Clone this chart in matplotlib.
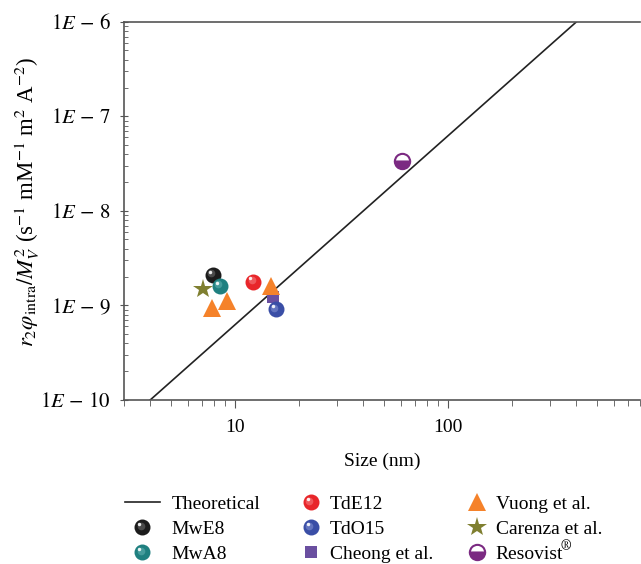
import numpy as np
import matplotlib
matplotlib.use("Agg")
import matplotlib.pyplot as plt
from matplotlib.lines import Line2D
from matplotlib.transforms import ScaledTranslation
from matplotlib.ticker import LogLocator, FixedLocator, NullFormatter

plt.rcParams["font.family"] = ["Liberation Serif", "DejaVu Serif"]
plt.rcParams["mathtext.fontset"] = "stix"

# data
theory_size = [4, 400]
theory_val = [1e-10, 1e-6]

sphere_names = ["MwE8", "MwA8", "TdE12", "TdO15"]
sphere_size = [7.85, 8.5, 12.2, 15.5]
sphere_val = [2.10e-9, 1.61e-9, 1.79e-9, 9.1e-10]
sphere_colors = ["#1c1c1c", "#1f8080", "#e8262a", "#3a4ea6"]
sphere_mid = ["#6a6a6a", "#5fb0b0", "#f47a7c", "#7f8fd0"]

cheong_size = [15.0]
cheong_val = [1.22e-9]

vuong_size = [7.76, 9.13, 14.7]
vuong_val = [9.4e-10, 1.10e-9, 1.62e-9]

carenza_size = [7.1]
carenza_val = [1.50e-9]

resovist_size = [60.7]
resovist_val = [3.4e-8]

# offsets (points) of the shading layers on a sphere
OFF1, OFF2 = 1.2, 2.2


class SphereHandler:
    # draws the same three layered discs in the legend, with the offsets
    def legend_artist(self, legend, orig_handle, fontsize, handlebox):
        cx = -handlebox.xdescent + handlebox.width / 2
        cy = -handlebox.ydescent + handlebox.height / 2
        tr = handlebox.get_transform()
        arts = []
        for ln, off in zip(orig_handle, [0, OFF1, OFF2]):
            a = Line2D([cx - off], [cy + off], marker="o", linestyle="none",
                       markersize=ln.get_markersize(), color=ln.get_color(),
                       alpha=ln.get_alpha(), markeredgewidth=0, transform=tr)
            handlebox.add_artist(a)
            arts.append(a)
        return arts[0]


fig = plt.figure(figsize=(6.41, 5.64), dpi=100)
ax = fig.add_axes([0.193, 0.291, 0.806, 0.670])

line_theory, = ax.plot(theory_size, theory_val, color="#222222", linewidth=1.2, label="Theoretical")

# shaded spheres: base disc + lighter disc + white highlight, nudged up-left
shift1 = ScaledTranslation(-OFF1 / 72, OFF1 / 72, fig.dpi_scale_trans)
shift2 = ScaledTranslation(-OFF2 / 72, OFF2 / 72, fig.dpi_scale_trans)
sphere_handles = {}
for name, xs, ys, c, cm in zip(sphere_names, sphere_size, sphere_val, sphere_colors, sphere_mid):
    m, = ax.plot([xs], [ys], "o", color=c, markersize=11.5, markeredgewidth=0, zorder=4)
    g, = ax.plot([xs], [ys], "o", color=cm, alpha=0.6, markersize=5.5,
                 markeredgewidth=0, zorder=5, transform=ax.transData + shift1)
    h, = ax.plot([xs], [ys], "o", color="white", alpha=0.9, markersize=2.5,
                 markeredgewidth=0, zorder=6, transform=ax.transData + shift2)
    sphere_handles[name] = (m, g, h)

h_cheong, = ax.plot(cheong_size, cheong_val, "s", color="#6a4fa0", markersize=9,
                    markeredgewidth=0, zorder=3)
h_vuong, = ax.plot(vuong_size, vuong_val, "^", color="#f5822a", markersize=13,
                   markeredgewidth=0, zorder=3)
h_carenza, = ax.plot(carenza_size, carenza_val, "*", color="#7f7f30", markersize=15,
                     markeredgewidth=0, zorder=3)
h_reso, = ax.plot(resovist_size, resovist_val, "o", fillstyle="bottom", markersize=11,
                  markerfacecolor="#7b2a82", markerfacecoloralt="white",
                  markeredgecolor="#7b2a82", markeredgewidth=1.5, zorder=3)

ax.set_xscale("log")
ax.set_yscale("log")
ax.set_xlim(3, 800)
ax.set_ylim(1e-10, 1e-6)

ax.spines["right"].set_visible(False)
for s in ["left", "bottom", "top"]:
    ax.spines[s].set_color("#555555")
    ax.spines[s].set_linewidth(1.2)

ax.set_xticks([10, 100])
ax.set_xticklabels(["10", "100"])
ax.xaxis.set_minor_locator(LogLocator(base=10, subs=np.arange(2, 10)))
ax.xaxis.set_minor_formatter(NullFormatter())
ax.tick_params(axis="x", which="major", direction="out", length=6, color="#555555",
               labelsize=14, pad=8)
ax.tick_params(axis="x", which="minor", direction="out", length=4, color="#555555")

ax.yaxis.set_major_locator(FixedLocator([1e-10, 1e-9, 1e-8, 1e-7, 1e-6]))
ax.set_yticklabels([r"$1E\,-\,10$", r"$1E\,-\,9$", r"$1E\,-\,8$", r"$1E\,-\,7$", r"$1E\,-\,6$"])
ax.yaxis.set_minor_locator(LogLocator(base=10, subs=np.arange(2, 10)))
ax.yaxis.set_minor_formatter(NullFormatter())
ax.tick_params(axis="y", which="major", direction="inout", length=6, color="#555555",
               labelsize=15, pad=6)
ax.tick_params(axis="y", which="minor", direction="in", length=3, color="#555555")

ax.set_xlabel("Size (nm)", fontsize=14, labelpad=12)
ax.set_ylabel(r"$r_2\varphi_{\mathrm{intra}}/M_V^2$ (s$^{-1}$ mM$^{-1}$ m$^2$ A$^{-2}$)",
              fontsize=16.5)
ax.yaxis.set_label_coords(-0.158, 0.525)

# three one-column legends so each column can have its own handle width
legend_cols = [
    ([line_theory, sphere_handles["MwE8"], sphere_handles["MwA8"]],
     ["Theoretical", "MwE8", "MwA8"], 0.1825, 1.8),
    ([sphere_handles["TdE12"], sphere_handles["TdO15"], h_cheong],
     ["TdE12", "TdO15", "Cheong et al."], 0.461, 0.75),
    ([h_vuong, h_carenza, h_reso],
     ["Vuong et al.", "Carenza et al.", "Resovist"], 0.720, 0.75),
]
legs = []
for hs, ls, x0, hl in legend_cols:
    leg = fig.legend(hs, ls, loc="upper left", bbox_to_anchor=(x0, 0.135),
                     frameon=False, fontsize=14, handlelength=hl, handletextpad=0.6,
                     labelspacing=0.38, borderaxespad=0,
                     handler_map={tuple: SphereHandler()})
    legs.append(leg)

# superscript registered sign after "Resovist"
fig.canvas.draw()
bb = legs[2].get_texts()[2].get_window_extent()
fig.text(bb.x1 / fig.bbox.width - 0.004, bb.y1 / fig.bbox.height - 0.012,
         r"$\circledR$", fontsize=10, ha="left", va="bottom")

fig.savefig("out.png", dpi=100)
